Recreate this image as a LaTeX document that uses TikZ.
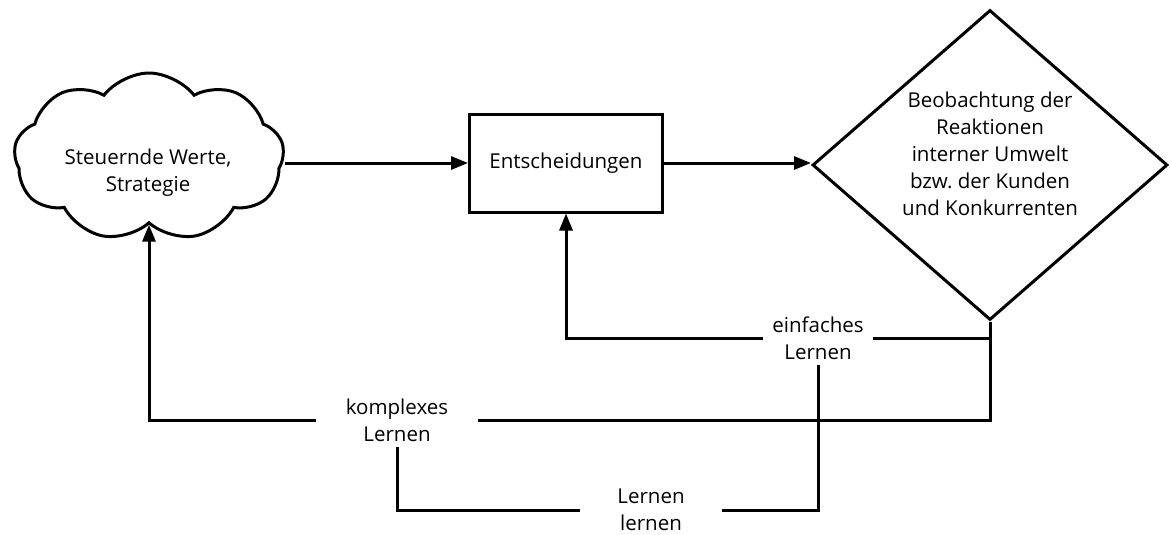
\documentclass[tikz,border=0pt]{standalone}
\usepackage{fontspec}
\setmainfont{Open Sans}
\usetikzlibrary{shapes.geometric,shapes.symbols,arrows.meta}
\begin{document}
\begin{tikzpicture}[x=1pt,y=-1pt,
  line width=3pt,
  arr/.style={-{Triangle[length=17pt,width=13pt]}},
  txt/.style={font=\fontsize{20.5}{27}\selectfont, align=center},
  lbl/.style={txt, inner ysep=4pt}]
\useasboundingbox (0,0) rectangle (1172,535);

% main chain: values -> decisions -> observation
\node[draw, cloud, cloud puffs=9, cloud puff arc=105, aspect=1.6,
      minimum width=270pt, minimum height=168pt, inner sep=0pt] (c) at (149,157) {};
\node[txt] (ct) at (148,173) {Steuernde Werte,\\Strategie};
\node[draw, txt, minimum width=193pt, minimum height=98pt] (e) at (566,163) {Entscheidungen};
\node[draw, diamond, minimum width=355pt, minimum height=310pt, inner sep=0pt] (d) at (990,165) {};
\node[txt] (dt) at (990,154) {Beobachtung der\\Reaktionen\\interner Umwelt\\bzw.\ der Kunden\\und Konkurrenten};

\draw[arr] (c.east |- e.west) -- (e.west);
\draw[arr] (e.east) -- (e.east -| d.west);

% learning loops
\node[lbl, inner xsep=8pt] (einf) at (818,338) {einfaches\\Lernen};
\node[lbl, inner xsep=28pt] (komp) at (397,420) {komplexes\\Lernen};
\node[lbl, inner xsep=36pt] (ll) at (651,510) {Lernen\\lernen};

\draw (d.south) |- (einf.east);
\draw[arr] (einf.west) -| (e.south);
\draw (d.south) |- (komp.east);
\draw[arr] (komp.west) -| (c.south);
\draw (komp.south) |- (ll.west);
\draw (ll.east) -| (einf.south);
\end{tikzpicture}
\end{document}
